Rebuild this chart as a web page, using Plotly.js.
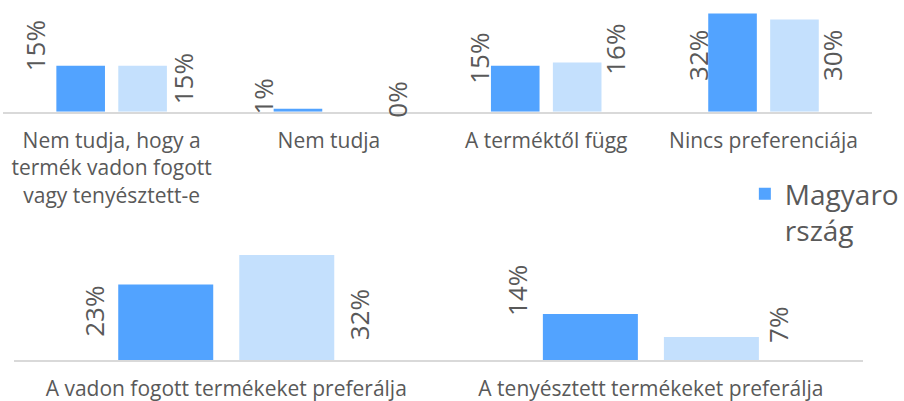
<!DOCTYPE html>
<html>
<head>
<meta charset="utf-8">
<script src="https://cdn.plot.ly/plotly-3.0.1.min.js"></script>
<style>html,body{margin:0;padding:0;background:#fff;}#chart{width:904px;height:401px;}</style>
</head>
<body>
<div id="chart"></div>
<script>
// ---- data ----
const topCategories = [
  "Nem tudja, hogy a<br>termék vadon fogott<br>vagy tenyésztett-e",
  "Nem tudja",
  "A terméktől függ",
  "Nincs preferenciája"
];
const topHungary = [15, 1, 15, 32];
const topOther = [15, 0, 16, 30];

const bottomCategories = [
  "A vadon fogott termékeket preferálja",
  "A tenyésztett termékeket preferálja"
];
const bottomHungary = [23, 14];
const bottomOther = [32, 7];

const seriesName = "Magyaro<br>rszág";

// ---- styling ----
const darkBlue = "#52A3FF";
const lightBlue = "#C4E0FD";
const textColor = "#595959";
const fontFamily = "'Open Sans', Roboto, sans-serif";

// label pixel offsets [dx, dy] from (category centre, bar top)
const topHuShift = [[-77, 20], [-66, 12], [-68, 7], [-65, -42]];
const topOtShift = [[71, -13], [68, 12], [68, 13], [68, -36]];
const botHuShift = [[-133, -27], [-134, 24]];
const botOtShift = [[133, -60], [127, 12]];

const traces = [
  {type: "bar", x: topCategories, y: topHungary, xaxis: "x", yaxis: "y",
   name: seriesName, marker: {color: darkBlue}, legendgroup: "hu", showlegend: true, hoverinfo: "y"},
  {type: "bar", x: topCategories, y: topOther, xaxis: "x", yaxis: "y",
   name: "", marker: {color: lightBlue}, showlegend: false, hoverinfo: "y"},
  {type: "bar", x: bottomCategories, y: bottomHungary, xaxis: "x2", yaxis: "y2",
   name: seriesName, marker: {color: darkBlue}, legendgroup: "hu", showlegend: false, hoverinfo: "y"},
  {type: "bar", x: bottomCategories, y: bottomOther, xaxis: "x2", yaxis: "y2",
   name: "", marker: {color: lightBlue}, showlegend: false, hoverinfo: "y"}
];

const annotations = [];
function addLabels(cats, vals, shifts, xref, yref) {
  cats.forEach((c, i) => {
    annotations.push({
      x: c, y: vals[i], xref: xref, yref: yref,
      text: vals[i] + "%", textangle: -90, showarrow: false,
      xanchor: "center", yanchor: "middle",
      xshift: shifts[i][0], yshift: shifts[i][1],
      font: {family: fontFamily, size: 26, color: textColor}
    });
  });
}
addLabels(topCategories, topHungary, topHuShift, "x", "y");
addLabels(topCategories, topOther, topOtShift, "x", "y");
addLabels(bottomCategories, bottomHungary, botHuShift, "x2", "y2");
addLabels(bottomCategories, bottomOther, botOtShift, "x2", "y2");

const xaxisBase = {
  type: "category", showline: true, linecolor: "#D9D9D9", linewidth: 2,
  ticks: "", showgrid: false, zeroline: false, automargin: false, fixedrange: true,
  ticklabelstandoff: 9,
  tickfont: {family: fontFamily, size: 21, color: textColor}
};
const yaxisBase = {
  showline: false, showgrid: false, zeroline: false, showticklabels: false,
  ticks: "", fixedrange: true
};

const layout = {
  width: 904, height: 401,
  margin: {l: 0, r: 0, t: 0, b: 0},
  paper_bgcolor: "#ffffff", plot_bgcolor: "#ffffff",
  barmode: "group", bargap: 0.43, bargroupgap: 0.215,
  font: {family: fontFamily, color: textColor},
  xaxis: Object.assign({}, xaxisBase, {domain: [3/904, 877/904], anchor: "y"}),
  yaxis: Object.assign({}, yaxisBase, {domain: [0.7214, 0.9875], range: [0, 34.74], anchor: "x"}),
  xaxis2: Object.assign({}, xaxisBase, {domain: [14/904, 868/904], anchor: "y2"}),
  yaxis2: Object.assign({}, yaxisBase, {domain: [0.10224, 0.37656], range: [0, 33.54], anchor: "x2"}),
  showlegend: true,
  legend: {
    x: 749/904, y: 0.5786, xanchor: "left", yanchor: "top", valign: "top",
    bgcolor: "rgba(0,0,0,0)", borderwidth: 0,
    font: {family: fontFamily, size: 28, color: textColor}
  },
  annotations: annotations
};

Plotly.newPlot("chart", traces, layout, {displayModeBar: false, staticPlot: true});
</script>
</body>
</html>
